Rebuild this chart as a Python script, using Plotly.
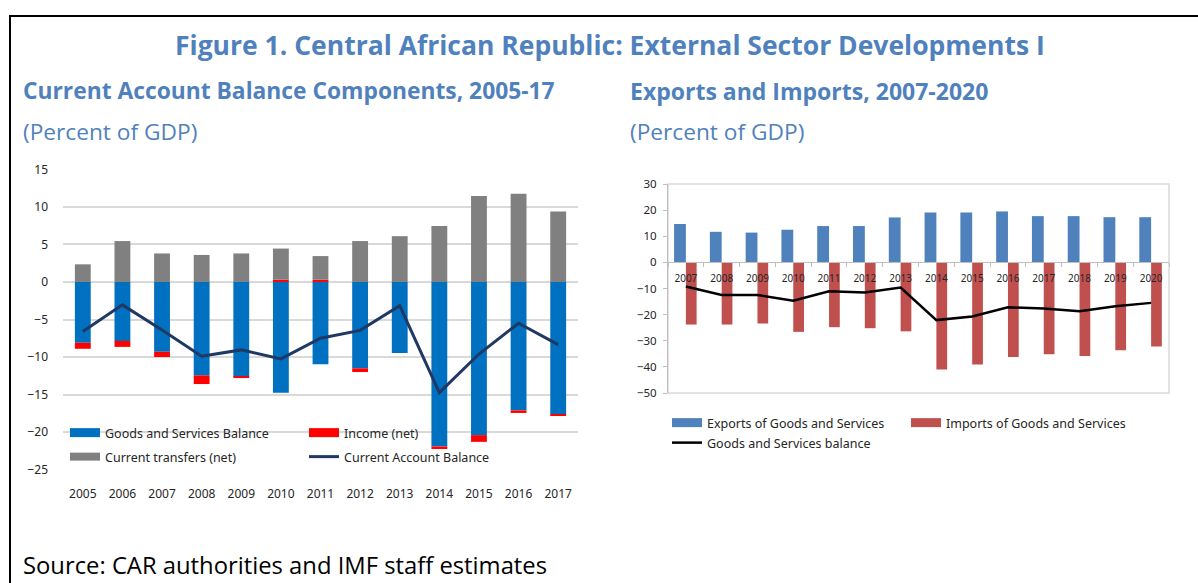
import plotly.graph_objects as go

W, H = 1198, 583

# Current account balance components, 2005-17 (percent of GDP)
ca_years = [str(y) for y in range(2005, 2018)]
goods_services = [-8.1, -7.85, -9.3, -12.45, -12.6, -14.75, -10.95, -11.5, -9.45, -21.9, -20.4, -17.1, -17.65]
income_net = [-0.8, -0.8, -0.7, -1.15, -0.2, 0.3, 0.3, -0.5, 0.0, -0.35, -0.9, -0.35, -0.15]
transfers_net = [2.35, 5.45, 3.8, 3.6, 3.8, 4.15, 3.15, 5.45, 6.1, 7.45, 11.45, 11.75, 9.4]
current_account = [-6.6, -3.05, -6.4, -9.9, -9.05, -10.25, -7.5, -6.45, -3.15, -14.75, -9.6, -5.5, -8.35]

# Exports and imports, 2007-2020 (percent of GDP)
trade_years = [str(y) for y in range(2007, 2021)]
exports = [14.7, 11.7, 11.4, 12.5, 13.9, 13.9, 17.2, 19.1, 19.1, 19.5, 17.7, 17.7, 17.3, 17.3]
imports = [-23.8, -23.8, -23.4, -26.6, -24.8, -25.2, -26.4, -41.0, -39.1, -36.2, -35.2, -35.8, -33.6, -32.2]
gs_balance = [-9.2, -12.5, -12.5, -14.7, -11.1, -11.5, -9.6, -22.1, -20.7, -17.2, -17.7, -18.7, -16.8, -15.5]

BLUE_TITLE = "#4F81BD"
TXT = "#262626"
FONT = "Noto Sans"
TFONT = "Open Sans"

C_GS, C_INC, C_TR, C_CA = "#0070C0", "#FF0000", "#808080", "#1F3864"
C_EXP, C_IMP, C_BAL = "#4F81BD", "#C0504D", "#000000"


def px_x(p):
    return p / W


def px_y(p):
    return 1 - p / H


fig = go.Figure()

# ---- left panel: stacked components + current account line
fig.add_bar(x=ca_years, y=goods_services, marker_color=C_GS, showlegend=False,
            xaxis="x", yaxis="y")
fig.add_bar(x=ca_years, y=income_net, marker_color=C_INC, showlegend=False,
            xaxis="x", yaxis="y")
fig.add_bar(x=ca_years, y=transfers_net, marker_color=C_TR, showlegend=False,
            xaxis="x", yaxis="y")
fig.add_scatter(x=ca_years, y=current_account, mode="lines",
                line=dict(color=C_CA, width=3), showlegend=False,
                xaxis="x", yaxis="y")

# ---- right panel: exports / imports side by side + balance line
fig.add_bar(x=trade_years, y=exports, marker_color=C_EXP, offset=-0.33, width=0.33,
            showlegend=False, xaxis="x2", yaxis="y2")
fig.add_bar(x=trade_years, y=imports, marker_color=C_IMP, offset=0.0, width=0.30,
            showlegend=False, xaxis="x2", yaxis="y2")
fig.add_scatter(x=trade_years, y=gs_balance, mode="lines",
                line=dict(color=C_BAL, width=2.5), showlegend=False,
                xaxis="x2", yaxis="y2")


# ---- legend entries (wide swatches)
def legend_entry(name, color, width, legend, xa, ya):
    fig.add_scatter(x=[None], y=[None], mode="lines", name=name,
                    line=dict(color=color, width=width), legend=legend,
                    xaxis=xa, yaxis=ya, showlegend=True)


legend_entry("Goods and Services Balance", C_GS, 9, "legend", "x", "y")
legend_entry("Income (net)", C_INC, 9, "legend", "x", "y")
legend_entry("Current transfers (net)", C_TR, 8, "legend2", "x", "y")
legend_entry("Current Account Balance", C_CA, 3, "legend2", "x", "y")
legend_entry("Exports of Goods and Services", C_EXP, 9, "legend3", "x2", "y2")
legend_entry("Imports of Goods and Services", C_IMP, 9, "legend3", "x2", "y2")
legend_entry("Goods and Services balance", C_BAL, 2.5, "legend4", "x2", "y2")


def legend_box(x, y, size):
    return dict(x=px_x(x), y=px_y(y), xanchor="left", yanchor="middle",
                orientation="h", entrywidth=194, entrywidthmode="pixels",
                itemwidth=30, bgcolor="rgba(0,0,0,0)",
                font=dict(family=FONT, size=size, color=TXT))


# right-panel geometry
y2_range = [-50, 30]
y2_dom = [px_y(393), px_y(184)]
zero_pos = y2_dom[0] + (0 - y2_range[0]) / (y2_range[1] - y2_range[0]) * (y2_dom[1] - y2_dom[0])

fig.update_layout(
    width=W, height=H, template="none",
    margin=dict(l=0, r=0, t=0, b=0, autoexpand=False),
    paper_bgcolor="white", plot_bgcolor="rgba(0,0,0,0)",
    barmode="relative", bargap=0.6,
    font=dict(family=FONT, color=TXT),
    xaxis=dict(domain=[px_x(63), px_x(578)], type="category", anchor="y",
               showgrid=False, showline=False, zeroline=False, ticks="",
               tickangle=0,
               tickfont=dict(family=FONT, size=12, color=TXT),
               ticklabelstandoff=15, automargin=False),
    yaxis=dict(domain=[px_y(470), px_y(169)], range=[-25.05, 15.05], dtick=5,
               tick0=0, anchor="x", showgrid=True, gridcolor="#D9D9D9",
               gridwidth=1.5, zeroline=False, showline=False, ticks="",
               tickfont=dict(family=FONT, size=12, color=TXT),
               ticklabelstandoff=14, automargin=False),
    xaxis2=dict(domain=[px_x(668), px_x(1169)], type="category", anchor="free",
                position=zero_pos, showgrid=False, zeroline=False,
                showline=True, linecolor="#BFBFBF", linewidth=1,
                ticks="outside", tickson="boundaries", ticklen=4, tickangle=0,
                tickcolor="#BFBFBF", tickfont=dict(family=FONT, size=10, color=TXT),
                ticklabelstandoff=7, automargin=False),
    yaxis2=dict(domain=y2_dom, range=y2_range, dtick=10, anchor="x2",
                showgrid=False, zeroline=False, showline=True,
                linecolor="#BFBFBF", linewidth=1, ticks="outside", ticklen=4,
                tickcolor="#BFBFBF", tickfont=dict(family=FONT, size=11.5, color=TXT),
                ticklabelstandoff=4, automargin=False),
    legend=legend_box(65, 433, 12.5),
    legend2=legend_box(65, 457, 12.5),
    legend3=legend_box(667, 423, 12.5),
    legend4=legend_box(667, 443, 12.5),
)

# plot-area frame of the right panel and outer figure frame
fig.add_shape(type="rect", xref="x2 domain", yref="y2 domain", x0=0, x1=1, y0=0, y1=1,
              line=dict(color="#D9D9D9", width=1.5), layer="below")
fig.add_shape(type="line", xref="paper", yref="paper", x0=px_x(10), x1=px_x(10),
              y0=0, y1=px_y(15), line=dict(color="black", width=2))
fig.add_shape(type="line", xref="paper", yref="paper", x0=px_x(9), x1=1,
              y0=px_y(16), y1=px_y(16), line=dict(color="black", width=2))


def text(s, x, y, size, bold=False, color=BLUE_TITLE, anchor="left", family=TFONT):
    fig.add_annotation(text=f"<b>{s}</b>" if bold else s, xref="paper", yref="paper",
                       x=px_x(x), y=px_y(y), xanchor=anchor, yanchor="middle",
                       showarrow=False, font=dict(family=family, size=size, color=color))


text("Figure 1. Central African Republic: External Sector Developments I", 610, 45, 26.5,
     bold=True, anchor="center")
text("Current Account Balance Components, 2005-17", 21, 91, 22.8, bold=True)
text("Exports and Imports, 2007-2020", 628, 91, 23, bold=True)
text("(Percent of GDP)", 21, 131, 22.7)
text("(Percent of GDP)", 628, 131, 22.7)
text("Source: CAR authorities and IMF staff estimates", 21, 565, 23.8, color="#000000")

fig.write_html("out.html")
